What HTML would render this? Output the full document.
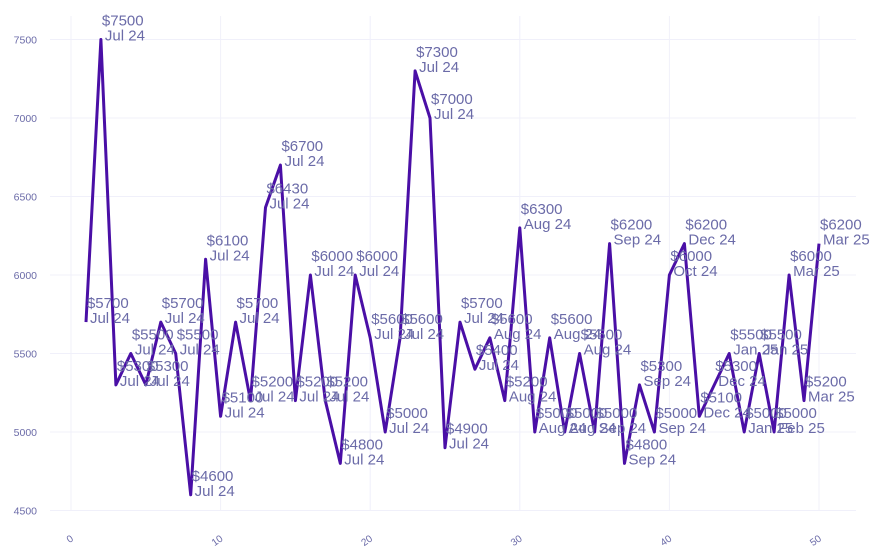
<!DOCTYPE html>
<html><head><meta charset="utf-8">
<style>
html,body{margin:0;padding:0;background:#fff;}
svg{display:block;font-family:"Liberation Sans",Arial,sans-serif;}
</style></head>
<body>
<svg id="chart" width="882" height="558" viewBox="0 0 882 558" xmlns="http://www.w3.org/2000/svg">
<g id="grid"></g>
<g id="axes"></g>
<path id="line" fill="none" stroke="#4a0fa6" stroke-width="3" stroke-linejoin="round"/>
<g id="labels"></g>
</svg>
<script>
const xValues = [1,2,3,4,5,6,7,8,9,10,11,12,13,14,15,16,17,18,19,20,21,22,23,24,25,26,27,28,29,30,31,32,33,34,35,36,37,38,39,40,41,42,43,44,45,46,47,48,49,50];
const prices = [5700,7500,5300,5500,5300,5700,5500,4600,6100,5100,5700,5200,6430,6700,5200,6000,5200,4800,6000,5600,5000,5600,7300,7000,4900,5700,5400,5600,5200,6300,5000,5600,5000,5500,5000,6200,4800,5300,5000,6000,6200,5100,5300,5500,5000,5500,5000,6000,5200,6200];
const months = ["Jul 24","Jul 24","Jul 24","Jul 24","Jul 24","Jul 24","Jul 24","Jul 24","Jul 24","Jul 24","Jul 24","Jul 24","Jul 24","Jul 24","Jul 24","Jul 24","Jul 24","Jul 24","Jul 24","Jul 24","Jul 24","Jul 24","Jul 24","Jul 24","Jul 24","Jul 24","Jul 24","Aug 24","Aug 24","Aug 24","Aug 24","Aug 24","Aug 24","Aug 24","Sep 24","Sep 24","Sep 24","Sep 24","Sep 24","Oct 24","Dec 24","Dec 24","Dec 24","Jan 25","Jan 25","Jan 25","Feb 25","Mar 25","Mar 25","Mar 25"];
const xTicks = [0,10,20,30,40,50];
const yTicks = [4500,5000,5500,6000,6500,7000,7500];

const NS = "http://www.w3.org/2000/svg";
const xScale = v => 71 + (v - 0) * (819 - 71) / 50;
const yScale = v => 510.5 - (v - 4500) * (510.5 - 39.5) / 3000;

const grid = document.getElementById('grid');
const axes = document.getElementById('axes');
const tickColor = "#6b6ba8";
yTicks.forEach(t => {
  const l = document.createElementNS(NS,'line');
  
  
  l.setAttribute('x1',50); l.setAttribute('x2',856);
  l.setAttribute('y1',yScale(t)); l.setAttribute('y2',yScale(t));
  l.setAttribute('stroke','#f0f0fa'); l.setAttribute('stroke-width',1);
  grid.appendChild(l);
  const tx = document.createElementNS(NS,'text');
  
  
  tx.setAttribute('x',37); tx.setAttribute('y',yScale(t)+4);
  tx.setAttribute('text-anchor','end'); tx.setAttribute('font-size','10.5');
  tx.setAttribute('fill',tickColor);
  tx.textContent = t;
  axes.appendChild(tx);
});
xTicks.forEach(t => {
  const l = document.createElementNS(NS,'line');
  
  
  l.setAttribute('x1',xScale(t)); l.setAttribute('x2',xScale(t));
  l.setAttribute('y1',16); l.setAttribute('y2',511);
  l.setAttribute('stroke','#f0f0fa'); l.setAttribute('stroke-width',1);
  grid.appendChild(l);
  const tx = document.createElementNS(NS,'text');
  
  
  const x = xScale(t)+3, y = 540;
  tx.setAttribute('x',x); tx.setAttribute('y',y);
  tx.setAttribute('text-anchor','end'); tx.setAttribute('font-size','10');
  tx.setAttribute('fill',tickColor);
  tx.setAttribute('transform','rotate(-35 '+x+' '+y+')');
  tx.textContent = t;
  axes.appendChild(tx);
});

let d = '';
xValues.forEach((x,i) => { d += (i ? 'L' : 'M') + xScale(x).toFixed(1) + ' ' + yScale(prices[i]).toFixed(1); });
document.getElementById('line').setAttribute('d', d);

const labels = document.getElementById('labels');
xValues.forEach((x,i) => {
  const px = xScale(x), py = yScale(prices[i]);
  const t = document.createElementNS(NS,'text');
  
  
  t.setAttribute('font-size','15'); t.setAttribute('fill','#6b6ba8');
  const a = document.createElementNS(NS,'tspan');
  a.setAttribute('x',px+1); a.setAttribute('y',py-14);
  a.textContent = '$' + prices[i];
  const b = document.createElementNS(NS,'tspan');
  b.setAttribute('x',px+4); b.setAttribute('y',py+1);
  b.textContent = months[i];
  t.appendChild(a); t.appendChild(b);
  labels.appendChild(t);
});
</script>
</body></html>
